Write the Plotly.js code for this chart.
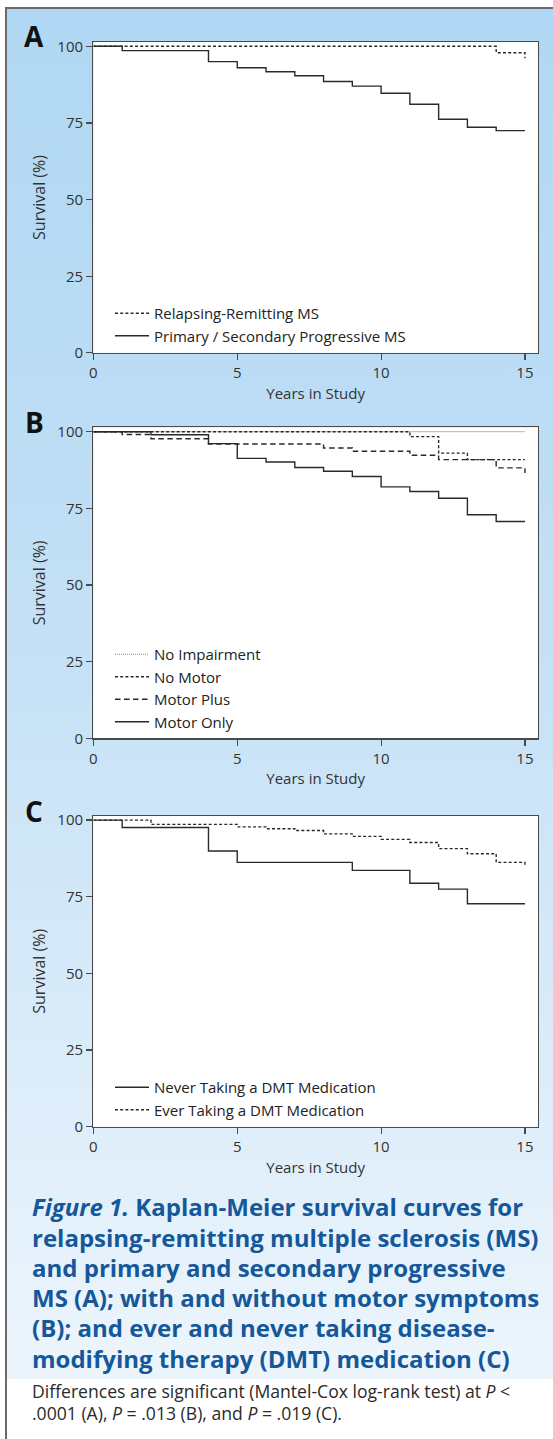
<!DOCTYPE html>
<html><head><meta charset="utf-8">
<script src="https://cdn.plot.ly/plotly-3.0.1.min.js"></script>
<style>
html,body{margin:0;padding:0;background:#fff;}
#wrap{position:relative;width:553px;height:1439px;overflow:hidden;background:#fff;}
#bg{position:absolute;left:6px;top:8px;right:0;height:1371px;background:linear-gradient(to bottom,#b0d7f3 0%,#c3e0f6 45%,#edf5fc 100%);}
#borderL{position:absolute;left:5px;top:7px;width:2px;height:1432px;background:#6a6a6a;}
#borderT{position:absolute;left:5px;top:7px;right:0;height:2px;background:#6a6a6a;}
#chart{position:absolute;left:0;top:0;width:553px;height:1439px;}
</style></head>
<body>
<div id="wrap"><div id="bg"></div><div id="borderL"></div><div id="borderT"></div><div id="chart"></div></div>
<script>
// ---- data ----
const xTicks = [0, 5, 10, 15];
const yTicks = [0, 25, 50, 75, 100];

// Panel A
const yearsA_RR = [0, 14, 15];
const survA_RR = [100, 97.9, 96.1];
const yearsA_PS = [0, 1, 4, 5, 6, 7, 8, 9, 10, 11, 12, 13, 14, 15];
const survA_PS = [100, 98.6, 95.0, 93.0, 91.7, 90.4, 88.5, 87.0, 84.7, 81.1, 76.2, 73.6, 72.5, 72.5];

// Panel B
const yearsB_NoImp = [0, 15];
const survB_NoImp = [100, 100];
const yearsB_NoMotor = [0, 11, 12, 13, 15];
const survB_NoMotor = [100, 98.4, 93.0, 90.9, 90.9];
const yearsB_MotorPlus = [0, 1, 2, 4, 8, 9, 11, 12, 14, 15];
const survB_MotorPlus = [100, 99.1, 97.7, 96.0, 94.7, 93.6, 92.3, 90.9, 88.2, 86.5];
const yearsB_MotorOnly = [0, 2, 4, 5, 6, 7, 8, 9, 10, 11, 12, 13, 14, 15];
const survB_MotorOnly = [100, 99.0, 96.1, 91.3, 90.1, 88.3, 87.1, 85.4, 82.0, 80.5, 78.3, 72.9, 70.7, 70.7];

// Panel C
const yearsC_Never = [0, 1, 4, 5, 9, 11, 12, 13, 15];
const survC_Never = [100, 97.6, 89.9, 86.2, 83.6, 79.4, 77.5, 72.7, 72.7];
const yearsC_Ever = [0, 2, 5, 6, 7, 8, 9, 10, 11, 12, 13, 14, 15];
const survC_Ever = [100, 98.6, 97.8, 97.2, 96.6, 95.5, 94.7, 93.7, 92.7, 90.7, 89.0, 86.2, 85.0];

const namesA = ['Relapsing-Remitting MS', 'Primary / Secondary Progressive MS'];
const namesB = ['No Impairment', 'No Motor', 'Motor Plus', 'Motor Only'];
const namesC = ['Never Taking a DMT Medication', 'Ever Taking a DMT Medication'];

// ---- styling ----
const F = "'Open Sans', 'DejaVu Sans', sans-serif";
const H = 1439, W = 553;
const LC = '#2a2a2a';
const SHORT = '3px,2.2px', LONG = '5.5px,3.5px', DOT = '1px,1px';

function tr(x, y, name, ax, leg, dash, color, width) {
  return {x: x, y: y, name: name, type: 'scatter', mode: 'lines',
    line: {shape: 'hv', color: color || LC, width: width || 1.4, dash: dash || 'solid'},
    xaxis: 'x' + (ax === 1 ? '' : ax), yaxis: 'y' + (ax === 1 ? '' : ax),
    legend: leg, hoverinfo: 'skip'};
}

const data = [
  tr(yearsA_RR, survA_RR, namesA[0], 1, 'legend', SHORT),
  tr(yearsA_PS, survA_PS, namesA[1], 1, 'legend'),
  tr(yearsB_NoImp, survB_NoImp, namesB[0], 2, 'legend2', DOT, '#8a8a8a', 1.2),
  tr(yearsB_NoMotor, survB_NoMotor, namesB[1], 2, 'legend2', SHORT),
  tr(yearsB_MotorPlus, survB_MotorPlus, namesB[2], 2, 'legend2', LONG),
  tr(yearsB_MotorOnly, survB_MotorOnly, namesB[3], 2, 'legend2'),
  tr(yearsC_Never, survC_Never, namesC[0], 3, 'legend3'),
  tr(yearsC_Ever, survC_Ever, namesC[1], 3, 'legend3', SHORT)
];

const xDom = [93.4 / W, 537.9 / W];
function py(px) { return 1 - px / H; }
const panels = [
  {top: 42.0, bottom: 352.9},
  {top: 427.4, bottom: 738.3},
  {top: 815.8, bottom: 1126.7}
];

const axBase = {
  showline: true, mirror: true, linecolor: '#4a4a4a', linewidth: 1.3,
  ticks: 'outside', ticklen: 6, tickwidth: 1.2, tickcolor: '#4a4a4a',
  showgrid: false, zeroline: false, fixedrange: true,
  tickfont: {family: F, size: 15, color: '#333'}
};

const layout = {
  width: W, height: H,
  margin: {l: 0, r: 0, t: 0, b: 0},
  paper_bgcolor: 'rgba(0,0,0,0)', plot_bgcolor: '#fff',
  showlegend: true,
  annotations: [],
  font: {family: F, color: '#333'}
};

panels.forEach((p, i) => {
  const k = i === 0 ? '' : String(i + 1);
  layout['xaxis' + k] = Object.assign({}, axBase, {
    domain: xDom, range: [0, 15.45], tickvals: xTicks, anchor: 'y' + k,
    title: {text: 'Years in Study', font: {family: F, size: 15, color: '#333'}, standoff: 7}
  });
  layout['yaxis' + k] = Object.assign({}, axBase, {
    domain: [py(p.bottom), py(p.top)], range: [0, 101.4], tickvals: yTicks, anchor: 'x' + k,
    title: {text: 'Survival (%)', font: {family: F, size: 16, color: '#333'}, standoff: 7}
  });
});

const legBase = {x: 110 / W, xanchor: 'left', yanchor: 'top', bgcolor: 'rgba(0,0,0,0)',
  borderwidth: 0, font: {family: F, size: 15, color: '#222'}, itemwidth: 34, tracegroupgap: 0};
layout.legend = Object.assign({}, legBase, {y: py(297)});
layout.legend2 = Object.assign({}, legBase, {y: py(638)});
layout.legend3 = Object.assign({}, legBase, {y: py(1071)});

// panel letters
[['A', 36.3], ['B', 422], ['C', 811]].forEach(([t, y]) => {
  layout.annotations.push({text: '<b>' + t + '</b>', xref: 'paper', yref: 'paper',
    x: 34.4 / W, y: py(y), xanchor: 'center', yanchor: 'middle', showarrow: false,
    font: {family: F, size: 28, color: '#111'}});
});

// caption
const capBold = [
  '<b><i>Figure 1.</i> Kaplan-Meier survival curves for</b>',
  '<b>relapsing-remitting multiple sclerosis (MS)</b>',
  '<b>and primary and secondary progressive</b>',
  '<b>MS (A); with and without motor symptoms</b>',
  '<b>(B); and ever and never taking disease-</b>',
  '<b>modifying therapy (DMT) medication (C)</b>'
];
capBold.forEach((t, i) => {
  layout.annotations.push({text: t, xref: 'paper', yref: 'paper',
    x: 30 / W, y: py(1206.7 + i * 30.3), xanchor: 'left', yanchor: 'middle', showarrow: false,
    font: {family: F, size: 24, color: '#15589a'}});
});
const capNote = [
  'Differences are significant (Mantel-Cox log-rank test) at <i>P</i> <',
  '.0001 (A), <i>P</i> = .013 (B), and <i>P</i> = .019 (C).'
];
capNote.forEach((t, i) => {
  layout.annotations.push({text: t, xref: 'paper', yref: 'paper',
    x: 30 / W, y: py(1391 + i * 22), xanchor: 'left', yanchor: 'middle', showarrow: false,
    font: {family: F, size: 17.6, color: '#2a2a2a'}});
});

Plotly.newPlot('chart', data, layout, {staticPlot: true, displayModeBar: false});
</script>
</body></html>
